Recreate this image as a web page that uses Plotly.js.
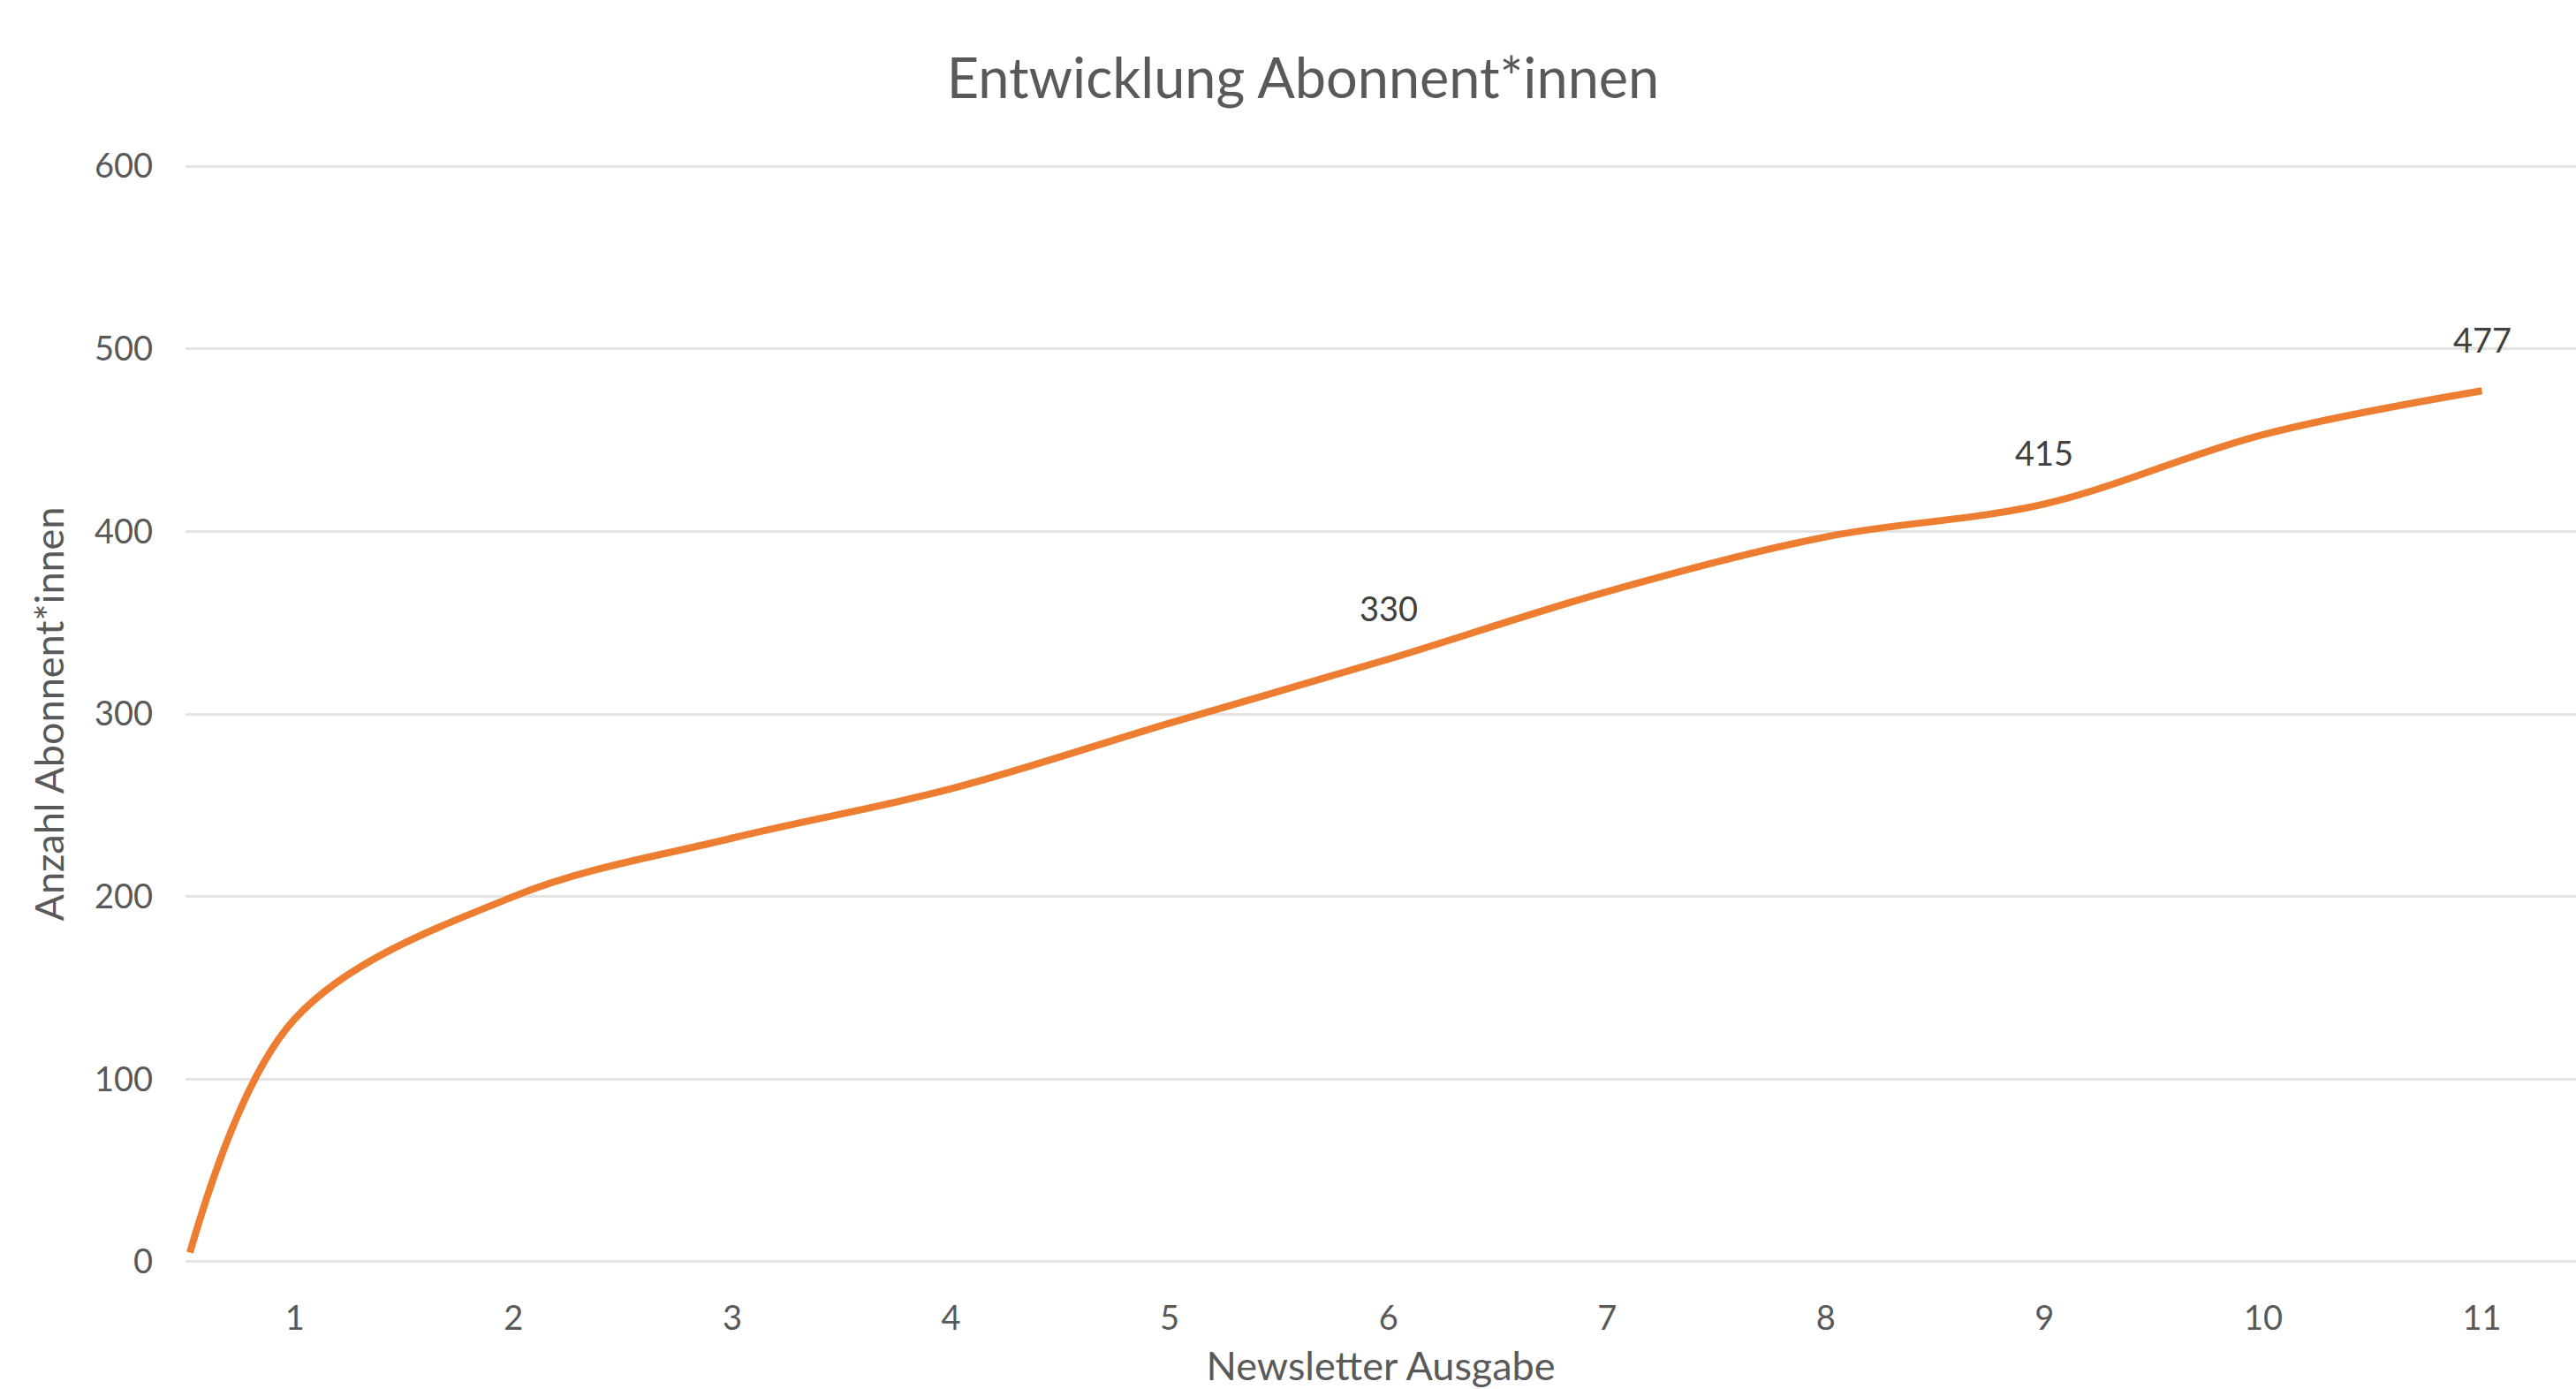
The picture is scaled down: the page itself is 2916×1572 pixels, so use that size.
<!DOCTYPE html>
<html>
<head>
<meta charset="utf-8">
<script src="https://cdn.plot.ly/plotly-3.0.1.min.js"></script>
<style>
  html, body { margin: 0; padding: 0; background: #ffffff; }
  #chart { width: 2916px; height: 1572px; }
</style>
</head>
<body>
<div id="chart"></div>
<script>
// ---- data ----
const ausgabe = [0.52, 1, 2, 3, 4, 5, 6, 7, 8, 9, 10, 11];
const abonnenten = [5, 133, 200, 232, 259, 295, 330, 367, 397, 415, 453, 477];
const labelledAusgaben = [6, 9, 11];
const xTickVals = [1, 2, 3, 4, 5, 6, 7, 8, 9, 10, 11];
const xTickText = ["1", "2", "3", "4", "5", "6", "7", "8", "9", "10", "11"];
const yTickVals = [0, 100, 200, 300, 400, 500, 600];

const chartTitle = "Entwicklung Abonnent*innen";
const xTitle = "Newsletter Ausgabe";
const yTitle = "Anzahl Abonnent*innen";

const FONT = "Lato, 'Open Sans', sans-serif";

const annotations = labelledAusgaben.map(function (a) {
  const i = ausgabe.indexOf(a);
  return {
    x: ausgabe[i], y: abonnenten[i], xref: "x", yref: "y",
    text: String(abonnenten[i]), showarrow: false,
    yshift: 58, font: { family: FONT, size: 38, color: "#404040" }
  };
});

const trace = {
  x: ausgabe,
  y: abonnenten,
  type: "scatter",
  mode: "lines",
  line: { color: "#ED7D31", width: 8, shape: "spline", smoothing: 1 },
  cliponaxis: false,
  hoverinfo: "x+y"
};

const layout = {
  width: 2916,
  height: 1572,
  paper_bgcolor: "#ffffff",
  plot_bgcolor: "#ffffff",
  margin: { l: 210, r: 0, t: 184, b: 140, pad: 0 },
  showlegend: false,
  font: { family: FONT, color: "#595959" },
  title: {
    text: chartTitle,
    font: { family: FONT, size: 63, color: "#595959" },
    x: 1475 / 2916, xref: "container", xanchor: "center",
    y: 1 - 89 / 1572, yref: "container", yanchor: "middle"
  },
  xaxis: {
    range: [0.5, 11.43],
    tickmode: "array",
    tickvals: xTickVals,
    ticktext: xTickText,
    ticks: "",
    showgrid: false,
    zeroline: false,
    showline: false,
    ticklabelstandoff: 34,
    tickfont: { family: FONT, size: 38, color: "#595959" },
    title: { text: xTitle, font: { family: FONT, size: 45, color: "#595959" }, standoff: 28 }
  },
  yaxis: {
    range: [-2, 602],
    tickmode: "array",
    tickvals: yTickVals,
    ticks: "",
    showgrid: true,
    gridcolor: "#e4e4e4",
    gridwidth: 3,
    zeroline: false,
    showline: false,
    ticklabelstandoff: 36,
    tickfont: { family: FONT, size: 38, color: "#595959" },
    title: { text: yTitle, font: { family: FONT, size: 45, color: "#595959" }, standoff: 20 }
  },
  annotations: annotations
};

Plotly.newPlot("chart", [trace], layout, { staticPlot: true, displayModeBar: false });
</script>
</body>
</html>
